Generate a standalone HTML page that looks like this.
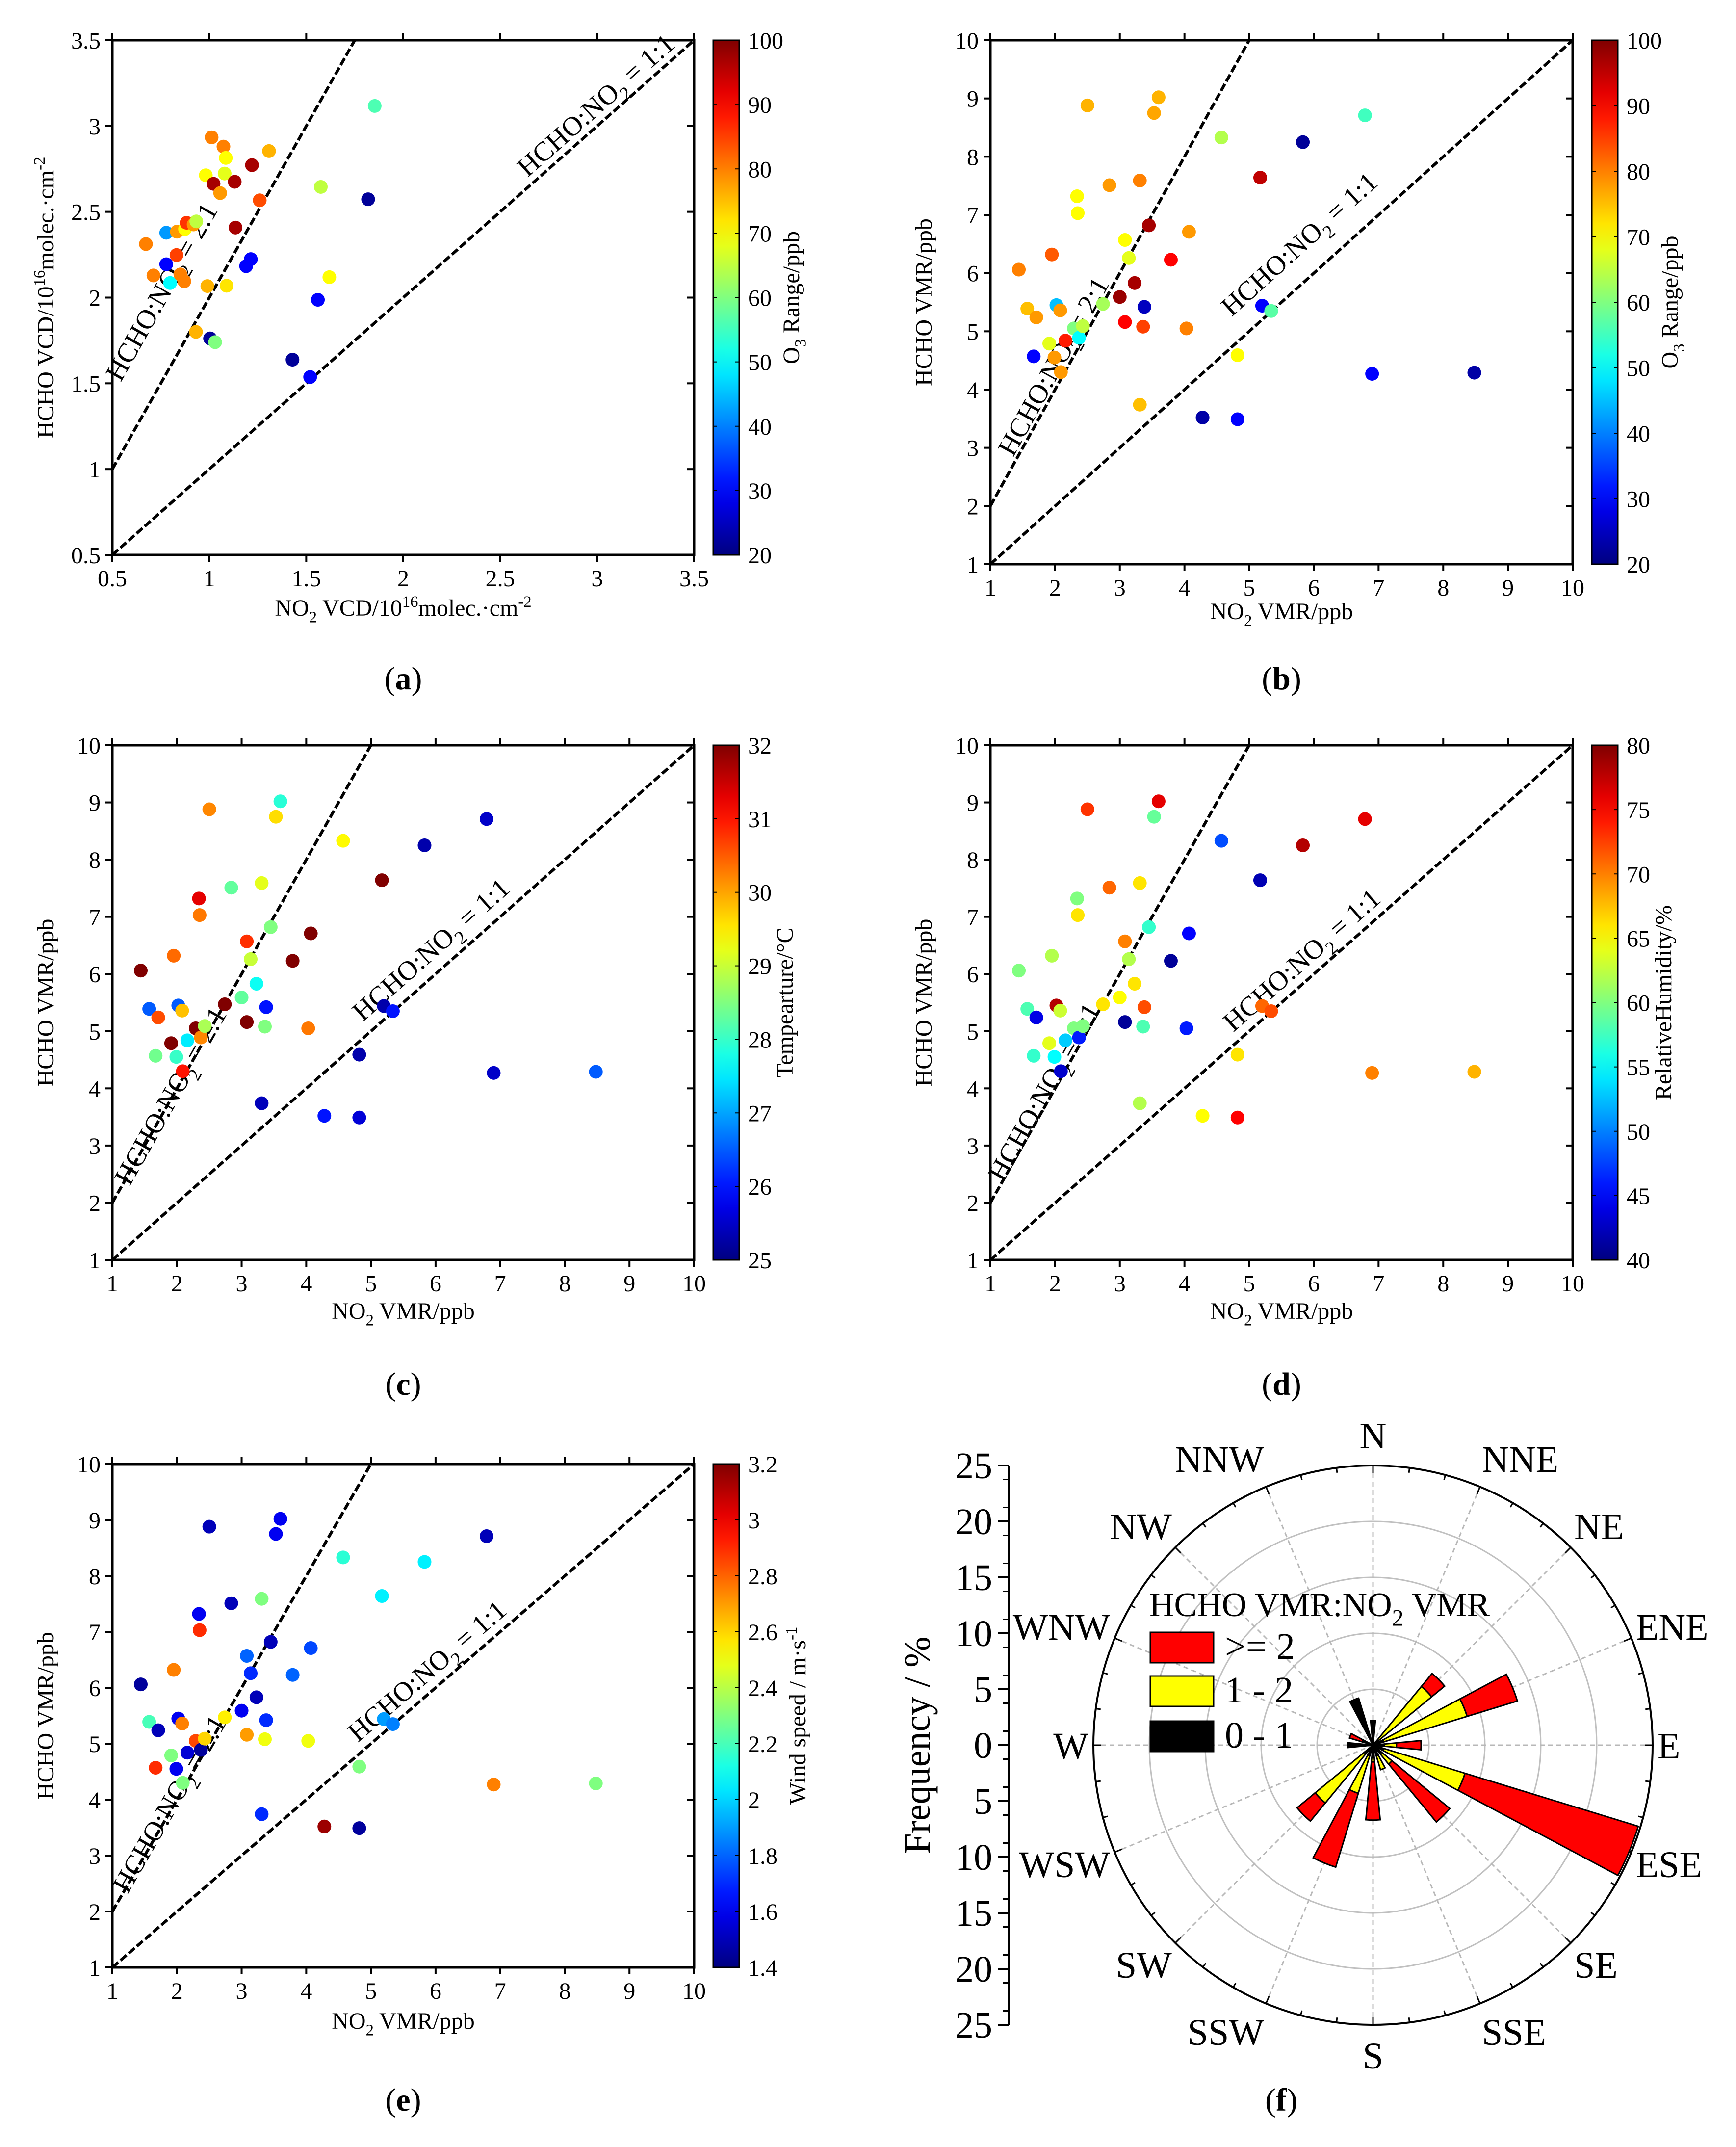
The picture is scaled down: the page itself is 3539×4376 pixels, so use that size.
<!DOCTYPE html>
<html><head><meta charset="utf-8"><title>HCHO vs NO2 scatter and wind rose</title>
<style>html,body{margin:0;padding:0;background:#fff}svg{display:block}
svg text, svg tspan{font-family:"Liberation Serif","DejaVu Serif",serif}</style></head>
<body>
<svg id="fig" xmlns="http://www.w3.org/2000/svg" width="3539" height="4376" viewBox="0 0 3539 4376"></svg>
<script>
// ---- panel (a) data: VCD ----
const no2VCD  = [0.673,0.712,0.778,0.778,0.798,0.831,0.833,0.851,0.871,0.875,0.883,0.919,0.933,0.931,0.982,0.990,1.004,1.012,1.022,1.030,1.056,1.073,1.079,1.085,1.089,1.131,1.135,1.190,1.214,1.220,1.260,1.308,1.429,1.520,1.560,1.575,1.619,1.819,1.853];
const hchoVCD = [2.312,2.129,2.378,2.194,2.085,2.248,2.384,2.135,2.095,2.400,2.436,2.426,2.444,1.800,2.713,2.067,1.762,2.934,2.663,1.740,2.609,2.880,2.723,2.814,2.069,2.675,2.408,2.183,2.224,2.772,2.567,2.854,1.638,1.537,1.987,2.645,2.119,2.573,3.117];
const o3VCD   = [80,80,42,30,50,85,78,80,80,70,86,78,65,76,70,76,22,80,97,60,78,80,68,70,72,97,97,30,30,97,84,76,22,30,30,65,70,22,56];
// ---- panels (b)-(e) data: VMR ----
const no2VMR  = [1.44,1.57,1.71,1.67,1.91,1.95,1.99,2.02,2.08,2.09,2.16,2.29,2.34,2.35,2.37,2.43,2.50,2.74,2.84,3.00,3.08,3.08,3.14,3.23,3.31,3.31,3.36,3.38,3.45,3.53,3.60,3.79,4.03,4.07,4.28,4.57,4.82,4.82,5.17,5.20,5.34,5.83,6.79,6.90,8.48];
const hchoVMR = [6.06,5.39,5.24,4.57,4.79,6.32,4.55,5.45,5.36,4.30,4.84,5.05,7.32,7.03,4.89,5.09,8.88,5.47,7.51,5.59,6.57,5.16,6.26,5.83,7.59,3.74,5.08,5.42,6.82,8.75,9.02,6.23,5.05,6.71,3.52,8.33,4.59,3.49,7.64,5.44,5.35,8.25,8.71,4.27,4.29];
const o3VMR   = [80,75,78,30,68,83,78,45,78,78,88,60,70,70,50,65,76,63,78,98,70,90,68,97,80,75,85,25,97,77,76,90,80,78,23,64,70,30,95,30,57,22,55,30,23];
const tempVals= [32,26.5,30.6,28.4,32,30.4,28,26.5,29.8,31.0,27.5,32,31.3,30.3,30.2,28.8,30.2,32,28.3,28.3,30.8,32,29,27.7,29.2,25.4,28.5,26,28.5,29.6,27.9,32,30.3,32,26,29.4,25.3,25.6,32,25.3,26,25.3,25.5,25.5,26.5];
const rhVals  = [60,58,44,57,64,62,55,78,63,43,53,60,60,66,46,60,73,66,71,65,70,41,62,66,66,62,58,72,57,59,76,41,46,45,65,48,66,75,42,71,72,78,76,70,68];
const windVals= [1.45,2.2,1.5,2.9,2.3,2.75,1.6,1.6,2.75,2.3,1.55,2.85,1.6,2.9,1.45,2.6,1.5,2.55,1.5,1.6,1.8,2.7,1.7,1.5,2.3,1.7,2.5,1.7,1.5,1.6,1.6,1.8,2.5,1.75,3.15,2.15,2.3,1.45,2.05,1.9,1.85,2.05,1.5,2.75,2.3];
// ---- tick labels ----
const vcdTicks = [0.5,1,1.5,2,2.5,3,3.5];
const vcdTickLabels = ["0.5","1","1.5","2","2.5","3","3.5"];
const vmrTicks = [1,2,3,4,5,6,7,8,9,10];
const o3Ticks = [20,30,40,50,60,70,80,90,100];
const tempTicks = [25,26,27,28,29,30,31,32];
const rhTicks = [40,45,50,55,60,65,70,75,80];
const windTicks = [1.4,1.6,1.8,2,2.2,2.4,2.6,2.8,3,3.2];
const windTickLabels = ["1.4","1.6","1.8","2","2.2","2.4","2.6","2.8","3","3.2"];
// ---- panel (f) wind rose data ----
const dirNames = ["N","NNE","NE","ENE","E","ESE","SE","SSE","S","SSW","SW","WSW","W","WNW","NW","NNW"];
const lowSeg  = [2.2,0,0.5,1.0,1.0,1.0,1.0,1.0,0.8,1.0,1.0,0,2.3,1.0,0,4.4];
const midSeg  = [0,0,6.3,7.8,1.1,7.6,1.2,1.3,0.7,3.5,5.7,0,0,0,0,0];
const highSeg = [0,0,1.5,4.7,2.2,16.2,6.7,0,5.2,6.9,2.1,0,0,1.2,0,0];
const freqTicks = [25,20,15,10,5,0,5,10,15,20,25];

const NS="http://www.w3.org/2000/svg";
const svg=document.getElementById('fig');
function mk(tag,attrs,parent){const e=document.createElementNS(NS,tag);for(const k in attrs)e.setAttribute(k,attrs[k]);(parent||svg).appendChild(e);return e;}
function jet(t){t=Math.max(0,Math.min(1,t));const c=v=>Math.round(255*Math.max(0,Math.min(1,v)));return `rgb(${c(1.5-Math.abs(4*t-3))},${c(1.5-Math.abs(4*t-2))},${c(1.5-Math.abs(4*t-1))})`;}
function richText(parent,x,y,parts,size,anchor,rot){
  const t=mk('text',{x:x,y:y,'font-size':size,'text-anchor':anchor||'middle',fill:'#000'},parent);
  if(rot)t.setAttribute('transform',`rotate(${rot} ${x} ${y})`);
  let shift=0;
  parts.forEach(p=>{
    const s=mk('tspan',{},t);
    let target=p[1]==='sub'?size*0.28:(p[1]==='sup'?-size*0.38:0);
    s.setAttribute('dy',target-shift);shift=target;
    if(p[1]==='sub'||p[1]==='sup')s.setAttribute('font-size',size*0.68);
    if(p[1]==='b')s.setAttribute('font-weight','bold');
    s.textContent=p[0];
  });
  return t;
}
const defs=mk('defs',{});
const grad=mk('linearGradient',{id:'jetg',x1:0,y1:1,x2:0,y2:0},defs);
for(let i=0;i<=20;i++){mk('stop',{offset:i/20,'stop-color':jet(i/20)},grad);}

function scatterPanel(cfg){
  const g=mk('g',{});
  
  
  const sx=v=>cfg.x0+(v-cfg.xmin)/(cfg.xmax-cfg.xmin)*(cfg.x1-cfg.x0);
  const sy=v=>cfg.y1-(v-cfg.ymin)/(cfg.ymax-cfg.ymin)*(cfg.y1-cfg.y0);
  const l2=mk('line',{x1:sx(cfg.xmin),y1:sy(2*cfg.xmin),x2:sx(cfg.ymax/2),y2:sy(cfg.ymax),stroke:'#000','stroke-width':6,'stroke-dasharray':'16 6'},g);
  
  
  const l1=mk('line',{x1:sx(cfg.xmin),y1:sy(cfg.xmin),x2:sx(cfg.xmax),y2:sy(cfg.xmax),stroke:'#000','stroke-width':6,'stroke-dasharray':'16 6'},g);
  
  
  const ppx=(cfg.x1-cfg.x0)/(cfg.xmax-cfg.xmin), ppy=(cfg.y1-cfg.y0)/(cfg.ymax-cfg.ymin);
  const a2=-Math.atan(2*ppy/ppx)*180/Math.PI;
  const a1=-Math.atan(ppy/ppx)*180/Math.PI;
  const t2=richText(g,cfg.lab2[0],cfg.lab2[1]+18,[["HCHO:NO"],["2","sub"],[" = 2:1"]],56,'middle',0);
  t2.setAttribute('transform',`rotate(${a2} ${cfg.lab2[0]} ${cfg.lab2[1]})`);
  
  
  const t1=richText(g,cfg.lab1[0],cfg.lab1[1]+18,[["HCHO:NO"],["2","sub"],[" = 1:1"]],56,'middle',0);
  t1.setAttribute('transform',`rotate(${a1} ${cfg.lab1[0]} ${cfg.lab1[1]})`);
  
  
  for(let i=0;i<cfg.xs.length;i++){
    const c=mk('circle',{cx:sx(cfg.xs[i]),cy:sy(cfg.ys[i]),r:14,fill:jet((cfg.cs[i]-cfg.cmin)/(cfg.cmax-cfg.cmin))},g);
    
    
  }
  const fr=mk('rect',{x:cfg.x0,y:cfg.y0,width:cfg.x1-cfg.x0,height:cfg.y1-cfg.y0,fill:'none',stroke:'#000','stroke-width':5},g);
  
  
  cfg.xticks.forEach((v,i)=>{
    const x=sx(v);
    mk('line',{x1:x,y1:cfg.y1,x2:x,y2:cfg.y1+14,stroke:'#000','stroke-width':4},g);
    mk('line',{x1:x,y1:cfg.y0,x2:x,y2:cfg.y0-14,stroke:'#000','stroke-width':4},g);
    const t=mk('text',{x:x,y:cfg.y1+64,'font-size':48,'text-anchor':'middle'},g);
    
    
    t.textContent=cfg.xlabels[i];
  });
  cfg.yticks.forEach((v,i)=>{
    const y=sy(v);
    mk('line',{x1:cfg.x0,y1:y,x2:cfg.x0-14,y2:y,stroke:'#000','stroke-width':4},g);
    mk('line',{x1:cfg.x1,y1:y,x2:cfg.x1-14,y2:y,stroke:'#000','stroke-width':4},g);
    const t=mk('text',{x:cfg.x0-24,y:y+17,'font-size':48,'text-anchor':'end'},g);
    
    
    t.textContent=cfg.ylabels[i];
  });
  const xt=richText(g,(cfg.x0+cfg.x1)/2,cfg.xtY,cfg.xtitle,48,'middle');
  
  
  const yt=richText(g,cfg.x0-120,(cfg.y0+cfg.y1)/2,cfg.ytitle,48,'middle',-90);
  
  
  const cbx=cfg.x1+39, cbw=53;
  const cb=mk('rect',{x:cbx,y:cfg.y0,width:cbw,height:cfg.y1-cfg.y0,fill:'url(#jetg)',stroke:'#000','stroke-width':3},g);
  
  
  const cy=v=>cfg.y1-(v-cfg.cmin)/(cfg.cmax-cfg.cmin)*(cfg.y1-cfg.y0);
  cfg.cticks.forEach((v,i)=>{
    const y=cy(v);
    mk('line',{x1:cbx,y1:y,x2:cbx+8,y2:y,stroke:'#000','stroke-width':2},g);
    mk('line',{x1:cbx+cbw,y1:y,x2:cbx+cbw-8,y2:y,stroke:'#000','stroke-width':2},g);
    const t=mk('text',{x:cbx+cbw+18,y:y+17,'font-size':48,'text-anchor':'start'},g);
    
    
    t.textContent=cfg.clabels[i];
  });
  const ct=richText(g,cbx+cfg.ctOff,(cfg.y0+cfg.y1)/2,cfg.ctitle,48,'middle',-90);
  
  
  const pl=richText(g,(cfg.x0+cfg.x1)/2,cfg.plY,[["("],[cfg.id,"b"],[")"]],66,'middle');
  
  
}
const vmrX=[["NO"],["2","sub"],[" VMR/ppb"]], vmrY=[["HCHO VMR/ppb"]];
const vmrL=vmrTicks.map(String);
const o3T=[["O"],["3","sub"],[" Range/ppb"]];
scatterPanel({id:'a',x0:229,x1:1415,y0:82,y1:1131,xmin:.5,xmax:3.5,ymin:.5,ymax:3.5,xs:no2VCD,ys:hchoVCD,cs:o3VCD,cmin:20,cmax:100,
  xticks:vcdTicks,xlabels:vcdTickLabels,yticks:vcdTicks,ylabels:vcdTickLabels,cticks:o3Ticks,clabels:o3Ticks.map(String),ctOff:175,
  xtitle:[["NO"],["2","sub"],[" VCD/10"],["16","sup"],["molec.·cm"],["-2","sup"]],ytitle:[["HCHO VCD/10"],["16","sup"],["molec.·cm"],["-2","sup"]],ctitle:o3T,
  lab2:[330,595],lab1:[1215,215],xtY:1255,plY:1405});
scatterPanel({id:'b',x0:2019,x1:3206,y0:82,y1:1150,xmin:1,xmax:10,ymin:1,ymax:10,xs:no2VMR,ys:hchoVMR,cs:o3VMR,cmin:20,cmax:100,
  xticks:vmrTicks,xlabels:vmrL,yticks:vmrTicks,ylabels:vmrL,cticks:o3Ticks,clabels:o3Ticks.map(String),ctOff:175,
  xtitle:vmrX,ytitle:vmrY,ctitle:o3T,lab2:[2148,747],lab1:[2649,498],xtY:1262,plY:1405});
scatterPanel({id:'c',x0:229,x1:1415,y0:1519,y1:2568,xmin:1,xmax:10,ymin:1,ymax:10,xs:no2VMR,ys:hchoVMR,cs:tempVals,cmin:25,cmax:32,
  xticks:vmrTicks,xlabels:vmrL,yticks:vmrTicks,ylabels:vmrL,cticks:tempTicks,clabels:tempTicks.map(String),ctOff:162,
  xtitle:vmrX,ytitle:vmrY,ctitle:[["Tempearture/°C"]],lab2:[348,2234],lab1:[879,1936],xtY:2688,plY:2843});
scatterPanel({id:'d',x0:2019,x1:3206,y0:1519,y1:2568,xmin:1,xmax:10,ymin:1,ymax:10,xs:no2VMR,ys:hchoVMR,cs:rhVals,cmin:40,cmax:80,
  xticks:vmrTicks,xlabels:vmrL,yticks:vmrTicks,ylabels:vmrL,cticks:rhTicks,clabels:rhTicks.map(String),ctOff:162,
  xtitle:vmrX,ytitle:vmrY,ctitle:[["RelativeHumidity/%"]],lab2:[2129,2226],lab1:[2654,1957],xtY:2688,plY:2843});
scatterPanel({id:'e',x0:229,x1:1415,y0:2984,y1:4010,xmin:1,xmax:10,ymin:1,ymax:10,xs:no2VMR,ys:hchoVMR,cs:windVals,cmin:1.4,cmax:3.2,
  xticks:vmrTicks,xlabels:vmrL,yticks:vmrTicks,ylabels:vmrL,cticks:windTicks,clabels:windTickLabels,ctOff:188,
  xtitle:vmrX,ytitle:vmrY,ctitle:[["Wind speed / m·s"],["-1","sup"]],lab2:[346,3677],lab1:[871,3406],xtY:4135,plY:4302});

// ---- panel (f) wind rose ----
(function(){
  const g=mk('g',{});
  
  
  const cx=2799, cy=3557, R=570, rmax=25;
  const rr=v=>v/rmax*R;
  [5,10,15,20].forEach(v=>{const c=mk('circle',{cx:cx,cy:cy,r:rr(v),fill:'none',stroke:'#c0c0c0','stroke-width':3},g);
    
    });
  for(let i=0;i<16;i++){const a=i*22.5*Math.PI/180;
    const l=mk('line',{x1:cx,y1:cy,x2:cx+R*Math.sin(a),y2:cy-R*Math.cos(a),stroke:'#b8b8b8','stroke-width':3,'stroke-dasharray':'10 7'},g);
    
    }
  const oc=mk('circle',{cx:cx,cy:cy,r:R,fill:'none',stroke:'#000','stroke-width':4},g);
  
  
  for(let i=0;i<48;i++){const a=i*7.5*Math.PI/180;const len=i%3===0?16:10;
    mk('line',{x1:cx+R*Math.sin(a),y1:cy-R*Math.cos(a),x2:cx+(R-len)*Math.sin(a),y2:cy-(R-len)*Math.cos(a),stroke:'#000','stroke-width':3},g);}
  const half=5.5*Math.PI/180;
  function sector(r0,r1,ang,fill,name){
    if(r1<=r0)return;
    const a0=ang-half,a1=ang+half;
    const p=(r,a)=>`${cx+rr(r)*Math.sin(a)},${cy-rr(r)*Math.cos(a)}`;
    const d=`M${p(r0,a0)} L${p(r1,a0)} A${rr(r1)},${rr(r1)} 0 0 1 ${p(r1,a1)} L${p(r0,a1)} A${rr(r0)},${rr(r0)} 0 0 0 ${p(r0,a0)} Z`;
    const s=mk('path',{d:d,fill:fill,stroke:'#000','stroke-width':3},g);
    
    
  }
  dirNames.forEach((n,i)=>{
    const ang=i*22.5*Math.PI/180;
    const b=lowSeg[i], y=b+midSeg[i], r=y+highSeg[i];
    sector(0,b,ang,'#000','bar-0-1-'+n);
    sector(b,y,ang,'#ffff00','bar-1-2-'+n);
    sector(y,r,ang,'#ff0000','bar-ge2-'+n);
    const s=Math.sin(ang), c=Math.cos(ang);
    const anchor=s>0.1?'start':(s<-0.1?'end':'middle');
    const t=mk('text',{x:cx+(R+10)*s,y:cy-(R+62)*c+27,'font-size':76,'text-anchor':anchor},g);
    
    
    t.textContent=n;
  });
  const ax=2057;
  mk('line',{x1:ax,y1:cy-R,x2:ax,y2:cy+R,stroke:'#000','stroke-width':4},g);
  freqTicks.forEach((v,i)=>{
    const y=cy-R+i*(2*R/(freqTicks.length-1));
    mk('line',{x1:ax,y1:y,x2:ax-22,y2:y,stroke:'#000','stroke-width':4},g);
    const t=mk('text',{x:ax-34,y:y+26,'font-size':76,'text-anchor':'end'},g);
    
    
    t.textContent=String(v);
  });
  for(let i=0;i<20;i++){const y=cy-R+(i+0.5)*(2*R/20);mk('line',{x1:ax,y1:y,x2:ax-12,y2:y,stroke:'#000','stroke-width':3},g);}
  const ft=richText(g,1895,cy,[["Frequency / %"]],76,'middle',-90);
  
  
  const lt=richText(g,2343,3294,[["HCHO VMR:NO"],["2","sub"],[" VMR"]],70,'start');
  
  
  [["#ff0000",">= 2",3327],["#ffff00","1 - 2",3416],["#000000","0 - 1",3508]].forEach(e=>{
    const r=mk('rect',{x:2345,y:e[2],width:129,height:62,fill:e[0],stroke:'#000','stroke-width':3},g);
    
    
    const t=mk('text',{x:2497,y:e[2]+54,'font-size':76},g);
    
    
    t.textContent=e[1];
  });
  const pl=richText(g,2612,4302,[["("],["f","b"],[")"]],66,'middle');
  
  
})();
</script>
</body></html>
